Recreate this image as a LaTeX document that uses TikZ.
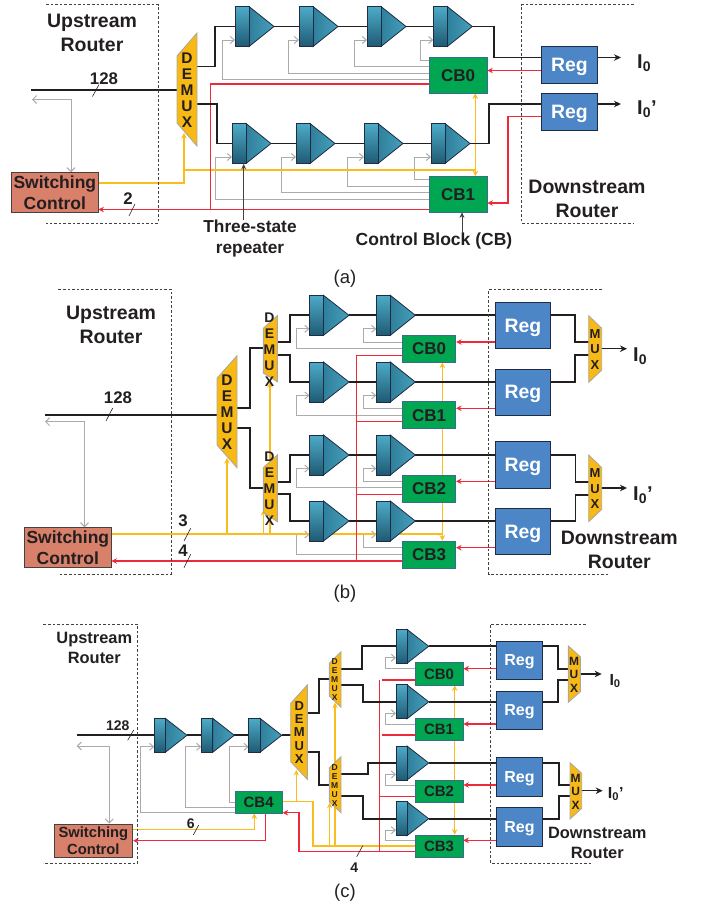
\documentclass[tikz,border=0pt]{standalone}
\usepackage{fontspec}
\setmainfont{Liberation Sans}
\usepackage{xcolor}
\usetikzlibrary{arrows.meta, backgrounds}

\definecolor{inkdark}{HTML}{231F20}
\definecolor{wirered}{HTML}{ED2A3A}
\definecolor{wiregold}{HTML}{FBBC1E}
\definecolor{wiregray}{HTML}{ABABAB}
\definecolor{cbgreen}{HTML}{00A651}
\definecolor{cbedge}{HTML}{3A6C8C}
\definecolor{regblue}{HTML}{4C86C6}
\definecolor{regedge}{HTML}{1F2D44}
\definecolor{switchred}{HTML}{D8806A}
\definecolor{muxgold}{HTML}{F8B914}
\definecolor{muxedge}{HTML}{ABA99F}
\definecolor{replight}{HTML}{4DABC8}
\definecolor{reptail}{HTML}{46A0BC}
\definecolor{repdark}{HTML}{1F5A73}
\definecolor{repmid}{HTML}{2F7F9B}

\newcommand{\setfs}[2]{\fontsize{#1}{#2}\selectfont}

% name, left x, centre y, body width, height, nose length
\newcommand{\repeater}[6]{%
    \coordinate (#1-tip) at (#2+#4+#6, #3);
    \coordinate (#1-en) at (#2, #3+0.3375*#5);
    \draw[repedgeline, left color=repmid, right color=reptail] (#2+#4, #3-#5/2) -- (#1-tip) -- (#2+#4, #3+#5/2) -- cycle;
    \node[repnode, minimum width=#4 pt, minimum height=#5 pt] (#1) at (#2+#4/2, #3) {};
}

\begin{document}
\begin{tikzpicture}[
        x=1pt, y=-1pt,
        labelnode/.style={inner sep=0pt, text=inkdark, align=center},
        cbnode/.style={rectangle, draw=cbedge, fill=cbgreen, inner sep=0pt, line width=0.7pt, text=inkdark},
        cba/.style={cbnode, minimum width=58pt, minimum height=35.5pt, font=\bfseries\setfs{17}{20}},
        cbb/.style={cbnode, minimum width=53.4pt, minimum height=27pt, font=\bfseries\setfs{17}{20}},
        cbc/.style={cbnode, minimum width=48pt, minimum height=22.3pt, font=\bfseries\setfs{15}{18}},
        regnode/.style={rectangle, draw=regedge, fill=regblue, inner sep=0pt, line width=0.8pt, text=white, text depth=0pt},
        rega/.style={regnode, minimum width=55.3pt, minimum height=37pt, font=\bfseries\setfs{19.4}{22}},
        regb/.style={regnode, minimum width=55.4pt, minimum height=46.4pt, font=\bfseries\setfs{19.4}{22}},
        regc/.style={regnode, minimum width=45.6pt, minimum height=38.3pt, font=\bfseries\setfs{16}{19}},
        switchnode/.style={rectangle, draw=inkdark!85, fill=switchred, inner sep=0pt, line width=0.8pt, text=inkdark, align=center},
        repnode/.style={rectangle, draw=regedge, top color=replight, bottom color=repdark, inner sep=0pt, line width=0.8pt},
        repedgeline/.style={draw=regedge, line width=0.8pt},
        muxfill/.style={fill=muxgold, draw=muxedge, line width=0.9pt},
        muxtext/.style={inner sep=0pt, text=inkdark, align=center},
        blackwire/.style={draw=inkdark, line width=1.7pt, line join=miter},
        blackarrow/.style={draw=inkdark, line width=1.5pt, -{Stealth[length=7pt, width=6.5pt]}},
        graywire/.style={draw=wiregray, line width=1pt},
        grayarrow/.style={graywire, -{Straight Barb[length=4pt, width=7pt]}},
        graydouble/.style={graywire, {Straight Barb[length=4pt, width=8pt]}-{Straight Barb[length=4pt, width=8pt]}},
        redwire/.style={draw=wirered, line width=1.25pt},
        redarrow/.style={redwire, -{Stealth[length=5.5pt, width=5.5pt]}},
        goldwire/.style={draw=wiregold, line width=1.3pt},
        goldarrow/.style={goldwire, -{Stealth[length=5.5pt, width=5.5pt]}},
        goldboth/.style={goldwire, {Stealth[length=5.5pt, width=5.5pt]}-{Stealth[length=5.5pt, width=5.5pt]}},
        routerbox/.style={draw=inkdark!85, line width=0.6pt, dash pattern=on 2.6pt off 2pt},
        buswidth/.style={draw=inkdark, line width=0.6pt},
        pointer/.style={draw=inkdark!85, line width=0.8pt, -{Stealth[length=5.5pt, width=5pt]}}
    ]
        \useasboundingbox (0,0) rectangle (706,905);

        % ---------- Panel (a) ----------
        \draw[routerbox] (46,4.5) -- (158.3,4.5) -- (158.3,223) -- (46,223);
        \draw[routerbox] (634,4.5) -- (521.7,4.5) -- (521.7,223) -- (634,223);
        \node[labelnode, font=\bfseries\setfs{19.5}{24}] (upa) at (92,33) {Upstream\\Router};
        \node[labelnode, font=\bfseries\setfs{19.5}{24}] (downa) at (587,199) {Downstream\\Router};

        \draw[muxfill] (177,56) -- (197,33) -- (197,146) -- (177,123) -- cycle;
        \node[muxtext, font=\bfseries\setfs{15.5}{16}] (d0a) at (187,90) {D\\E\\M\\U\\X};

        \node[switchnode, minimum width=86.3pt, minimum height=39.6pt, font=\bfseries\setfs{17.5}{21}] (sca) at (54.85,192.5) {Switching\\Control};
        \node[cba] (cb0a) at (458,75.25) {CB0};
        \node[cba] (cb1a) at (458,194.25) {CB1};
        \node[rega] (reg0a) at (569.35,65) {Reg};
        \node[rega] (reg1a) at (569.35,111.5) {Reg};

        \repeater{ra1}{235}{26.5}{14}{40}{25}
        \repeater{ra2}{299}{26.5}{14}{40}{25}
        \repeater{ra3}{367}{26.5}{14}{40}{25}
        \repeater{ra4}{433.3}{26.5}{14}{40}{25}
        \repeater{rb1}{232}{143.5}{14}{40}{25}
        \repeater{rb2}{296}{143.5}{14}{40}{25}
        \repeater{rb3}{364}{143.5}{14}{40}{25}
        \repeater{rb4}{431}{143.5}{14}{40}{25}

        \coordinate (ina) at (31,90);
        \coordinate (gatea) at (32,99.5);
        \coordinate (sela) at (184,133);
        \coordinate (out0a) at (621,57.5);
        \coordinate (out1a) at (621,104);

        \node[labelnode, font=\bfseries\setfs{16.8}{20}] (w128a) at (104,79) {128};
        \node[labelnode, font=\bfseries\setfs{16.8}{20}] (w2a) at (128,199) {2};
        \node[labelnode, anchor=base west, font=\bfseries\setfs{20}{24}] (i0a) at (637,68) {I\textsubscript{0}};
        \node[labelnode, anchor=base west, font=\bfseries\setfs{20}{24}] (i1a) at (637,114.5) {I\textsubscript{0}’};
        \node[labelnode, font=\bfseries\setfs{17.3}{21}] (tsa) at (250,238.5) {Three-state\\repeater};
        \node[labelnode, font=\bfseries\setfs{17.5}{20}] (cbla) at (434,241) {Control Block (CB)};
        \node[labelnode, font=\setfs{18.5}{22}] (capa) at (345,279) {(a)};

        \begin{scope}[on background layer]
            % control lines
            \draw[grayarrow] (cb0a.west |- 0,79.5) -- (222,79.5) |- (ra1-en);
            \draw[grayarrow] (cb0a.west |- 0,73) -- (288,73) |- (ra2-en);
            \draw[grayarrow] (cb0a.west |- 0,66.3) -- (354.5,66.3) |- (ra3-en);
            \draw[grayarrow] (cb0a.west |- 0,60) -- (420.5,60) |- (ra4-en);
            \draw[grayarrow] (cb1a.west |- 0,199) -- (215.5,199) |- (rb1-en);
            \draw[grayarrow] (cb1a.west |- 0,192.3) -- (281.5,192.3) |- (rb2-en);
            \draw[grayarrow] (cb1a.west |- 0,186) -- (347.5,186) |- (rb3-en);
            \draw[grayarrow] (cb1a.west |- 0,179.5) -- (414,179.5) |- (rb4-en);
            \draw[graydouble] (gatea) -- (71,99.5) -- (sca.north -| 71,99.5);
            \draw[goldarrow] (sca.east |- 0,183) -| (sela);
            \draw[goldwire] (184,170) -- (475.3,170);
            \draw[goldboth] (cb0a.south -| 475.3,0) -- (cb1a.north -| 475.3,0);
            \draw[redarrow] (cb1a.west |- 0,209.5) -- (sca.east |- 0,209.5);
            \draw[redwire] (210.5,209.5) -- (210.5,84) -- (cb0a.west |- 0,84);
            \draw[redarrow] (reg0a.west |- 0,70.5) -- (cb0a.east |- 0,70.5);
            \draw[redarrow] (reg1a.west |- 0,116.5) -- (508,116.5) |- (cb1a.east |- 0,203);
            % data path
            \draw[blackwire] (ina) -- (d0a.west |- ina);
            \draw[blackwire] (d0a.east |- 0,66.5) -- (215,66.5) |- (ra1.west);
            \draw[blackwire] (d0a.east |- 0,104) -- (217,104) |- (rb1.west);
            \draw[blackwire] (ra1-tip) -- (ra2.west);
            \draw[blackwire] (ra2-tip) -- (ra3.west);
            \draw[blackwire] (ra3-tip) -- (ra4.west);
            \draw[blackwire] (rb1-tip) -- (rb2.west);
            \draw[blackwire] (rb2-tip) -- (rb3.west);
            \draw[blackwire] (rb3-tip) -- (rb4.west);
            \draw[blackwire] (ra4-tip) -- (494,26.5) |- (reg0a.west |- 0,57.5);
            \draw[blackwire] (rb4-tip) -- (489,143.5) |- (reg1a.west |- 0,104);
            \draw[blackarrow] (reg0a.east |- 0,57.5) -- (out0a);
            \draw[blackarrow] (reg1a.east |- 0,104) -- (out1a);
        \end{scope}
        \draw[buswidth] (92.5,96.5) -- (99,84.5);
        \draw[buswidth] (129,216) -- (135,204);
        \draw[pointer] (tsa.north -| 243.7,0) -- (rb1.south -| 243.7,0);
        \draw[pointer] (cbla.north -| 462,0) -- (cb1a.south -| 462,0);

        % ---------- Panel (b) ----------
        \draw[routerbox] (58.3,289.3) -- (171,289.3) -- (171,574) -- (58.3,574);
        \draw[routerbox] (602,289.3) -- (488.7,289.3) -- (488.7,574) -- (608,574);
        \node[labelnode, font=\bfseries\setfs{19.5}{23.7}] (upb) at (111,325) {Upstream\\Router};
        \node[labelnode, font=\bfseries\setfs{19.5}{23.7}] (downb) at (619.3,550) {Downstream\\Router};

        \draw[muxfill] (217,378.3) -- (237,355.7) -- (237,467.7) -- (217,445) -- cycle;
        \node[muxtext, font=\bfseries\setfs{15.5}{16}] (d0b) at (227,412.5) {D\\E\\M\\U\\X};
        \draw[muxfill] (263.3,328.3) -- (277.3,315.7) -- (277.3,381.7) -- (263.3,373) -- cycle;
        \node[muxtext, font=\bfseries\setfs{14}{16}] (d1b) at (269.5,349.5) {D\\E\\M\\U\\X};
        \draw[muxfill] (263.3,467.6) -- (277.3,455) -- (277.3,521.7) -- (263.3,512.3) -- cycle;
        \node[muxtext, font=\bfseries\setfs{14}{16}] (d2b) at (269.5,489) {D\\E\\M\\U\\X};
        \draw[muxfill] (588.7,315.7) -- (601.7,328.3) -- (601.7,370) -- (588.7,382.3) -- cycle;
        \node[muxtext, font=\bfseries\setfs{13}{15.6}] (m0b) at (595,349.5) {M\\U\\X};
        \draw[muxfill] (588.7,455) -- (601.7,467.6) -- (601.7,509.3) -- (588.7,521.6) -- cycle;
        \node[muxtext, font=\bfseries\setfs{13}{15.6}] (m1b) at (595,488.8) {M\\U\\X};

        \node[switchnode, minimum width=86.3pt, minimum height=40pt, font=\bfseries\setfs{17.5}{21}] (scb) at (67.85,547.7) {Switching\\Control};
        \node[cbb] (cb0b) at (429,348.7) {CB0};
        \node[cbb] (cb1b) at (429,415.2) {CB1};
        \node[cbb] (cb2b) at (429,488.4) {CB2};
        \node[cbb] (cb3b) at (429,554.5) {CB3};
        \node[regb] (reg0b) at (523,325.5) {Reg};
        \node[regb] (reg1b) at (523,392.2) {Reg};
        \node[regb] (reg2b) at (523,465) {Reg};
        \node[regb] (reg3b) at (523,531.5) {Reg};

        \repeater{rc1}{309.5}{315.3}{14}{40}{25.5}
        \repeater{rc2}{376.3}{315.3}{14}{40}{25}
        \repeater{rd1}{309.5}{382}{14}{40}{25.5}
        \repeater{rd2}{376.3}{382}{14}{40}{25}
        \repeater{re1}{309.5}{455}{14}{40}{25.5}
        \repeater{re2}{376.3}{455}{14}{40}{25}
        \repeater{rf1}{309.5}{521}{14}{40}{25.5}
        \repeater{rf2}{376.3}{521}{14}{40}{25}

        \coordinate (inb) at (45,415);
        \coordinate (gateb) at (45,421.7);
        \coordinate (sel0b) at (227,458);
        \coordinate (sel1b) at (270,382);
        \coordinate (sel2b) at (263.5,510);
        \coordinate (out0b) at (627,348.7);
        \coordinate (out1b) at (627,488);

        \node[labelnode, font=\bfseries\setfs{16.8}{20}] (w128b) at (118,397.7) {128};
        \node[labelnode, font=\bfseries\setfs{16.8}{20}] (w3b) at (183,521) {3};
        \node[labelnode, font=\bfseries\setfs{16.8}{20}] (w4b) at (183,550.7) {4};
        \node[labelnode, anchor=base west, font=\bfseries\setfs{20}{24}] (i0b) at (633,361) {I\textsubscript{0}};
        \node[labelnode, anchor=base west, font=\bfseries\setfs{20}{24}] (i1b) at (633,500) {I\textsubscript{0}’};
        \node[labelnode, font=\setfs{18.5}{22}] (capb) at (345,593.3) {(b)};

        \begin{scope}[on background layer]
            % control lines
            \draw[grayarrow] (cb0b.west |- 0,348.3) -- (296.5,348.3) |- (rc1-en);
            \draw[grayarrow] (cb0b.west |- 0,342) -- (363,342) |- (rc2-en);
            \draw[grayarrow] (cb1b.west |- 0,415) -- (296.5,415) |- (rd1-en);
            \draw[grayarrow] (cb1b.west |- 0,408.3) -- (363,408.3) |- (rd2-en);
            \draw[grayarrow] (cb2b.west |- 0,487.7) -- (296.5,487.7) |- (re1-en);
            \draw[grayarrow] (cb2b.west |- 0,481.3) -- (363,481.3) |- (re2-en);
            \draw[grayarrow] (cb3b.west |- 0,554.3) -- (296.5,554.3) |- (rf1-en);
            \draw[grayarrow] (cb3b.west |- 0,547.7) -- (363,547.7) |- (rf2-en);
            \draw[graydouble] (gateb) -- (84.5,421.7) -- (scb.north -| 84.5,421.7);
            \draw[goldwire] (scb.east |- 0,534) -- (442.3,534);
            \draw[goldboth] (cb0b.south -| 442.3,0) -- (cb3b.north -| 442.3,0);
            \draw[goldarrow] (227,534) -- (sel0b);
            \draw[goldarrow] (263.5,534) -- (sel2b);
            \draw[goldarrow] (270,534) -- (sel1b);
            \draw[redarrow] (cb3b.west |- 0,561) -- (scb.east |- 0,561);
            \draw[redwire] (356.3,561) -- (356.3,355.3) -- (cb0b.west |- 0,355.3);
            \draw[redwire] (356.3,421.7) -- (cb1b.west |- 0,421.7);
            \draw[redwire] (356.3,494.7) -- (cb2b.west |- 0,494.7);
            \draw[redarrow] (reg0b.west |- 0,342) -- (cb0b.east |- 0,342);
            \draw[redarrow] (reg1b.west |- 0,408.3) -- (cb1b.east |- 0,408.3);
            \draw[redarrow] (reg2b.west |- 0,481.3) -- (cb2b.east |- 0,481.3);
            \draw[redarrow] (reg3b.west |- 0,547.7) -- (cb3b.east |- 0,547.7);
            % data path
            \draw[blackwire] (inb) -- (d0b.west |- inb);
            \draw[blackwire] (d0b.east |- 0,408.3) -- (250,408.3) |- (d1b.west |- 0,348.3);
            \draw[blackwire] (d0b.east |- 0,427.7) -- (250,427.7) |- (d2b.west |- 0,487.7);
            \draw[blackwire] (d1b.east |- 0,342.3) -- (290,342.3) |- (rc1.west);
            \draw[blackwire] (d1b.east |- 0,355) -- (290,355) |- (rd1.west);
            \draw[blackwire] (d2b.east |- 0,481.7) -- (290,481.7) |- (re1.west);
            \draw[blackwire] (d2b.east |- 0,494.3) -- (290,494.3) |- (rf1.west);
            \draw[blackwire] (rc1-tip) -- (rc2.west);
            \draw[blackwire] (rd1-tip) -- (rd2.west);
            \draw[blackwire] (re1-tip) -- (re2.west);
            \draw[blackwire] (rf1-tip) -- (rf2.west);
            \draw[blackwire] (rc2-tip) -- (reg0b.west |- rc2-tip);
            \draw[blackwire] (rd2-tip) -- (reg1b.west |- rd2-tip);
            \draw[blackwire] (re2-tip) -- (reg2b.west |- re2-tip);
            \draw[blackwire] (rf2-tip) -- (reg3b.west |- rf2-tip);
            \draw[blackwire] (reg0b.east |- 0,315.3) -- (575,315.3) |- (m0b.west |- 0,342.3);
            \draw[blackwire] (reg1b.east |- 0,382) -- (575,382) |- (m0b.west |- 0,355.3);
            \draw[blackwire] (reg2b.east |- 0,455) -- (575.5,455) |- (m1b.west |- 0,481.7);
            \draw[blackwire] (reg3b.east |- 0,521) -- (575.5,521) |- (m1b.west |- 0,494.7);
            \draw[blackarrow] (m0b.center |- out0b) -- (out0b);
            \draw[blackarrow] (m1b.center |- out1b) -- (out1b);
        \end{scope}
        \draw[buswidth] (106,421) -- (112.7,408);
        \draw[buswidth] (184,541) -- (190.7,528.3);
        \draw[buswidth] (184,567.7) -- (190.7,554.3);

        % ---------- Panel (c) ----------
        \draw[routerbox] (43.3,624) -- (137.7,624) -- (137.7,863) -- (43.3,863);
        \draw[routerbox] (586,624) -- (490.7,624) -- (490.7,863) -- (590.7,863);
        \node[labelnode, font=\bfseries\setfs{16.4}{20}] (upc) at (94.3,648.3) {Upstream\\Router};
        \node[labelnode, font=\bfseries\setfs{16.4}{20}] (downc) at (597.3,842.7) {Downstream\\Router};

        \draw[muxfill] (290.7,703.3) -- (307.3,685) -- (307.3,779.3) -- (290.7,761.7) -- cycle;
        \node[muxtext, font=\bfseries\setfs{13}{13.3}] (d0c) at (299.3,732.5) {D\\E\\M\\U\\X};
        \draw[muxfill] (329.3,663.3) -- (341,651.7) -- (341,707.3) -- (329.3,696) -- cycle;
        \node[muxtext, font=\bfseries\setfs{8.5}{9}] (d1c) at (334.7,679.7) {D\\E\\M\\U\\X};
        \draw[muxfill] (329.3,768) -- (341,756.7) -- (341,812.7) -- (329.3,801.7) -- cycle;
        \node[muxtext, font=\bfseries\setfs{8.5}{9}] (d2c) at (334.7,785.5) {D\\E\\M\\U\\X};
        \draw[muxfill] (568.3,646) -- (580.3,656.7) -- (580.3,691.7) -- (568.3,702.3) -- cycle;
        \node[muxtext, font=\bfseries\setfs{12}{13.6}] (m0c) at (574,674.7) {M\\U\\X};
        \draw[muxfill] (570,762.7) -- (581.7,773.3) -- (581.7,808.3) -- (570,819) -- cycle;
        \node[muxtext, font=\bfseries\setfs{12}{13.6}] (m1c) at (575.7,791.5) {M\\U\\X};

        \node[switchnode, minimum width=78.7pt, minimum height=33.7pt, font=\bfseries\setfs{14.75}{17.5}] (scc) at (93.35,840.85) {Switching\\Control};
        \node[cbnode, minimum width=47.3pt, minimum height=22pt, font=\bfseries\setfs{15}{18}] (cb4c) at (258.65,802) {CB4};
        \node[cbc] (cb0c) at (439,673.85) {CB0};
        \node[cbc] (cb1c) at (439,729.5) {CB1};
        \node[cbc] (cb2c) at (439,791.15) {CB2};
        \node[cbc] (cb3c) at (439,846.15) {CB3};
        \node[regc] (reg0c) at (519.5,660.15) {Reg};
        \node[regc] (reg1c) at (519.5,710.15) {Reg};
        \node[regc] (reg2c) at (519.5,776.85) {Reg};
        \node[regc] (reg3c) at (519.5,826.85) {Reg};

        \repeater{rg1}{154.3}{735.3}{11}{34}{21.7}
        \repeater{rg2}{201.3}{735.3}{11.4}{34}{21.6}
        \repeater{rg3}{248.7}{735.3}{11.3}{34}{21.7}
        \repeater{rh0}{396}{646.3}{11}{34}{21.7}
        \repeater{rh1}{396}{701.8}{11}{34}{21.7}
        \repeater{rh2}{396}{763}{11}{34}{21.7}
        \repeater{rh3}{396}{818.7}{11}{34}{21.7}

        \coordinate (inc) at (76.7,735.3);
        \coordinate (gatec) at (76.7,746);
        \coordinate (sel0c) at (296.3,770);
        \coordinate (sel1c) at (335,702.7);
        \coordinate (sel2c) at (329.7,802.7);
        \coordinate (out0c) at (601.7,674);
        \coordinate (out1c) at (602.7,790.7);

        \node[labelnode, font=\bfseries\setfs{14}{17}] (w128c) at (117.7,725.7) {128};
        \node[labelnode, font=\bfseries\setfs{14}{17}] (w6c) at (190.7,823.3) {6};
        \node[labelnode, font=\bfseries\setfs{14}{17}] (w4c) at (354.3,867.7) {4};
        \node[labelnode, anchor=base west, font=\bfseries\setfs{16}{19}] (i0c) at (609.3,685) {I\textsubscript{0}};
        \node[labelnode, anchor=base west, font=\bfseries\setfs{16}{19}] (i1c) at (607.7,798.3) {I\textsubscript{0}’};
        \node[labelnode, font=\setfs{18.5}{22}] (capc) at (345,892.7) {(c)};

        \begin{scope}[on background layer]
            % control lines
            \draw[grayarrow] (cb4c.west |- 0,812.7) -- (140.7,812.7) |- (rg1-en);
            \draw[grayarrow] (cb4c.west |- 0,807.3) -- (185.7,807.3) |- (rg2-en);
            \draw[grayarrow] (cb4c.west |- 0,802) -- (229.7,802) |- (rg3-en);
            \draw[grayarrow] (cb0c.west |- 0,668.3) -- (385,668.3) |- (rh0-en);
            \draw[grayarrow] (cb1c.west |- 0,724) -- (385,724) |- (rh1-en);
            \draw[grayarrow] (cb2c.west |- 0,785) -- (385,785) |- (rh2-en);
            \draw[grayarrow] (cb3c.west |- 0,840.7) -- (385,840.7) |- (rh3-en);
            \draw[graydouble] (gatec) -- (109.3,746) -- (scc.north -| 109.3,746);
            \draw[goldarrow] (scc.east |- 0,829.7) -| (cb4c.south -| 254.3,0);
            \draw[goldwire] (cb4c.east |- 0,801.7) -- (313,801.7) |- (cb3c.west |- 0,846);
            \draw[goldarrow] (296.3,801.7) -- (sel0c);
            \draw[goldarrow] (329.7,846) -- (sel2c);
            \draw[goldarrow] (335,846) -- (sel1c);
            \draw[goldboth] (cb0c.south -| 454.7,0) -- (cb3c.north -| 454.7,0);
            \draw[redarrow] (cb4c.south -| 265.7,0) |- (scc.east |- 0,840.7);
            \draw[redarrow] (cb3c.west |- 0,851.7) -- (299,851.7) |- (cb4c.east |- 0,812.7);
            \draw[redwire] (379.3,851.7) -- (379.3,680);
            \draw[redwire] (382,680) -- (cb0c.west |- 0,680);
            \draw[redwire] (382,735) -- (cb1c.west |- 0,735);
            \draw[redwire] (379.3,796.3) -- (cb2c.west |- 0,796.3);
            \draw[redarrow] (reg0c.west |- 0,668.7) -- (cb0c.east |- 0,668.7);
            \draw[redarrow] (reg1c.west |- 0,724) -- (cb1c.east |- 0,724);
            \draw[redarrow] (reg2c.west |- 0,785) -- (cb2c.east |- 0,785);
            \draw[redarrow] (reg3c.west |- 0,840.3) -- (cb3c.east |- 0,840.3);
            % data path
            \draw[blackwire] (inc) -- (rg1.west);
            \draw[blackwire] (rg1-tip) -- (rg2.west);
            \draw[blackwire] (rg2-tip) -- (rg3.west);
            \draw[blackwire] (rg3-tip) -- (d0c.west |- rg3-tip);
            \draw[blackwire] (d0c.east |- 0,713) -- (318.7,713) |- (d1c.west |- 0,679.3);
            \draw[blackwire] (d0c.east |- 0,751.7) -- (318.7,751.7) |- (d2c.west |- 0,784.7);
            \draw[blackwire] (d1c.east |- 0,668.7) -- (362.3,668.7) |- (rh0.west);
            \draw[blackwire] (d1c.east |- 0,685) -- (362.7,685) |- (rh1.west);
            \draw[blackwire] (d2c.east |- 0,774) -- (368.3,774) |- (rh2.west);
            \draw[blackwire] (d2c.east |- 0,795.7) -- (362.7,795.7) |- (rh3.west);
            \draw[blackwire] (rh0-tip) -- (reg0c.west |- rh0-tip);
            \draw[blackwire] (rh1-tip) -- (reg1c.west |- rh1-tip);
            \draw[blackwire] (rh2-tip) -- (reg2c.west |- rh2-tip);
            \draw[blackwire] (rh3-tip) -- (reg3c.west |- rh3-tip);
            \draw[blackwire] (reg0c.east |- 0,646) -- (557.7,646) |- (m0c.west |- 0,669);
            \draw[blackwire] (reg1c.east |- 0,701.7) -- (557.7,701.7) |- (m0c.west |- 0,679.7);
            \draw[blackwire] (reg2c.east |- 0,763) -- (559,763) |- (m1c.west |- 0,785);
            \draw[blackwire] (reg3c.east |- 0,818.7) -- (559,818.7) |- (m1c.west |- 0,796);
            \draw[blackarrow] (m0c.center |- out0c) -- (out0c);
            \draw[blackarrow] (m1c.center |- out1c) -- (out1c);
        \end{scope}
        \draw[buswidth] (127.7,740.3) -- (133.7,730);
        \draw[buswidth] (193.3,835) -- (198.7,825);
        \draw[buswidth] (356.7,856.7) -- (362.7,845.7);
    \end{tikzpicture}
\end{document}
